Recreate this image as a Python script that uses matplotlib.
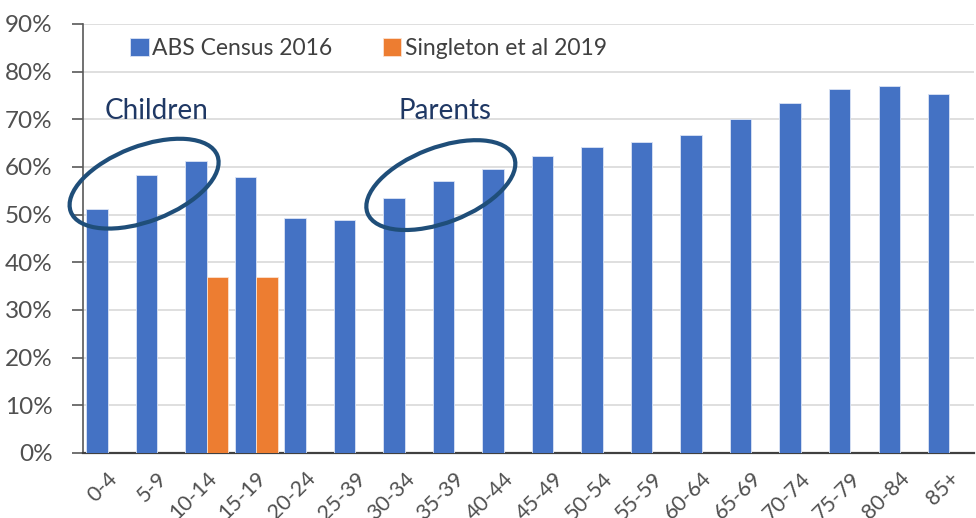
import matplotlib.pyplot as plt
import numpy as np
from matplotlib.patches import Ellipse
from matplotlib.transforms import ScaledTranslation
from matplotlib.ticker import PercentFormatter

plt.rcParams['font.family'] = ['Lato', 'DejaVu Sans']

age_groups = ["0-4", "5-9", "10-14", "15-19", "20-24", "25-39", "30-34", "35-39", "40-44",
              "45-49", "50-54", "55-59", "60-64", "65-69", "70-74", "75-79", "80-84", "85+"]

abs_census = [51.2, 58.3, 61.2, 57.8, 49.4, 48.8, 53.4, 57.0, 59.5,
              62.4, 64.2, 65.2, 66.7, 70.1, 73.5, 76.3, 76.9, 75.3]

singleton = [0, 0, 37.0, 37.0, 0, 0, 0, 0, 0,
             0, 0, 0, 0, 0, 0, 0, 0, 0]

fig = plt.figure(figsize=(9.76, 5.18), dpi=100)
ax = fig.add_axes([0.085, 0.1255, 0.913, 0.8282])

x = np.arange(len(age_groups))
w = 0.43
ax.bar(x - w / 2, abs_census, w, color="#4472C4", edgecolor="#dbe4f5", linewidth=0.6,
       label="ABS Census 2016", zorder=3)
ax.bar(x + w / 2, singleton, w, color="#ED7D31", edgecolor="#fbe2d0", linewidth=0.6,
       label="Singleton et al 2019", zorder=3)

ax.set_xlim(-0.5, len(age_groups) - 0.5)
ax.set_ylim(0, 90)
ax.set_yticks(range(0, 91, 10))
ax.yaxis.set_major_formatter(PercentFormatter(decimals=0))
ax.grid(axis="y", color="#d9d9d9", linewidth=1.2, zorder=0)
ax.set_axisbelow(True)

ax.set_xticks(x)
ax.set_xticklabels(age_groups, rotation=45, ha="right", va="top", rotation_mode="anchor")
ax.tick_params(axis="x", length=0, pad=11, labelsize=15.5, labelcolor="#505050")
ax.tick_params(axis="y", length=8, width=1.2, color="#595959", pad=14,
               labelsize=17.5, labelcolor="#505050")

for s in ["top", "right"]:
    ax.spines[s].set_visible(False)
ax.spines["left"].set_color("#595959")
ax.spines["left"].set_linewidth(1.2)
ax.spines["bottom"].set_color("#404040")
ax.spines["bottom"].set_linewidth(1.6)

ax.legend(loc="upper left", bbox_to_anchor=(0.03, 1.015), ncol=2, frameon=False,
          fontsize=16.5, handlelength=0.8, handleheight=0.8, handletextpad=0.15,
          columnspacing=2.2, labelcolor="#404040")

# annotations
ax.text(-0.06, 71.8, "Children", fontsize=20, color="#1f3864", va="center", ha="left")
ax.text(5.88, 71.8, "Parents", fontsize=20, color="#1f3864", va="center", ha="left")

for cx, cy in [(0.735, 56.5), (6.729, 56.2)]:
    tr = fig.dpi_scale_trans + ScaledTranslation(cx, cy, ax.transData)
    ax.add_patch(Ellipse((0, 0), 1.57, 0.75, angle=21, transform=tr, fill=False,
                         edgecolor="#1f4e79", linewidth=3, zorder=5, clip_on=False))

fig.savefig("out.png", dpi=100)
